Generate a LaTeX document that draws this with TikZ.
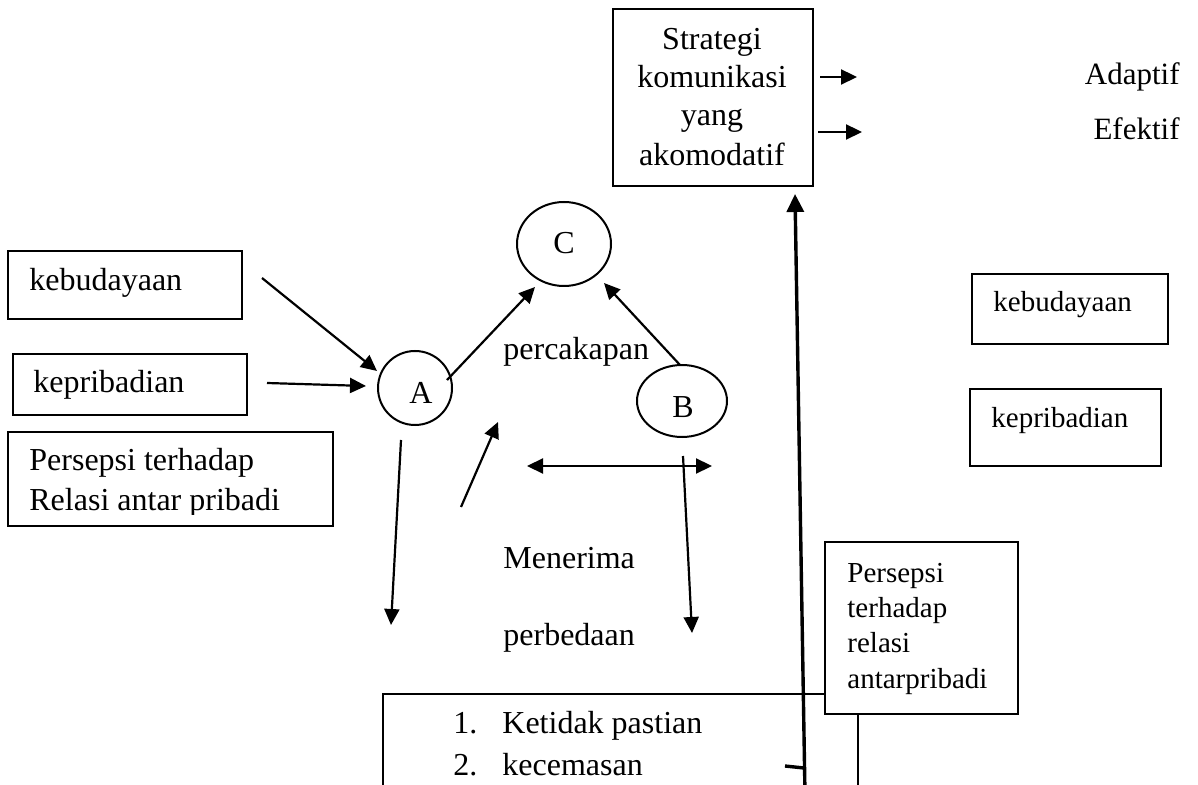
\documentclass[tikz,border=0pt]{standalone}
\usepackage{fontspec}
\setmainfont{Liberation Serif}
\usetikzlibrary{arrows.meta,shapes.geometric}
\begin{document}
\begin{tikzpicture}[x=0.5pt,y=-0.5pt,
  box/.style={draw,line width=1pt,fill=white,inner sep=0pt,anchor=north west},
  oval/.style={draw,ellipse,line width=1pt,inner sep=0pt},
  txt/.style={inner sep=0pt,font=\fontsize{16}{19}\selectfont},
  stxt/.style={inner sep=0pt,font=\fontsize{14.5}{17}\selectfont},
  conn/.style={line width=1.1pt,-{Triangle[length=8pt,width=7.5pt]}},
  thick line/.style={line width=1.7pt}]
\useasboundingbox[fill=white] (0,0) rectangle (1198,785);

% --- top box and outputs
\node[box,minimum width=100pt,minimum height=88.5pt] (strat) at (612,8) {};
\node[txt,anchor=base] (s1) at (712,50) {Strategi};
\node[txt,anchor=base] (s2) at (712,88) {komunikasi};
\node[txt,anchor=base] (s3) at (712,126) {yang};
\node[txt,anchor=base] (s4) at (712,166) {akomodatif};
\coordinate (a1s) at (820,77);
\coordinate (a1e) at (857,77);
\coordinate (a2s) at (818,132);
\coordinate (a2e) at (862,132);
\draw[conn] (a1s) -- (a1e);
\draw[conn] (a2s) -- (a2e);
\node[txt,anchor=base east,font=\fontsize{15.5}{18}\selectfont] (adap) at (1180,85) {Adaptif};
\node[txt,anchor=base east,font=\fontsize{15.5}{18}\selectfont] (efek) at (1180,140) {Efektif};

% --- left boxes
\node[box,minimum width=117pt,minimum height=34pt] (kb1) at (7,250) {};
\node[txt,anchor=base west] (kb1t) at (29,291) {kebudayaan};
\node[box,minimum width=117pt,minimum height=30.5pt] (kp1) at (12,353) {};
\node[txt,anchor=base west] (kp1t) at (33,393) {kepribadian};
\node[box,minimum width=162.5pt,minimum height=47pt] (ps1) at (7,431) {};
\begin{scope}
  \clip (7,431) rectangle (332,514);
  \node[txt,anchor=base west] (ps1a) at (29,471) {Persepsi terhadap};
  \node[txt,anchor=base west] (ps1b) at (29,510) {Relasi antar pribadi};
\end{scope}

% --- right boxes
\node[box,minimum width=98pt,minimum height=35pt] (kb2) at (971,273) {};
\node[stxt,anchor=base west] (kb2t) at (993,312) {kebudayaan};
\node[box,minimum width=95.5pt,minimum height=38.5pt] (kp2) at (969,388) {};
\node[stxt,anchor=base west] (kp2t) at (991,428) {kepribadian};

% --- circles
\node[oval,minimum width=47pt,minimum height=42pt] (C) at (564,244) {};
\node[txt,anchor=base] (Ct) at (564,254) {C};
\node[oval,minimum width=37pt,minimum height=37pt] (A) at (415,388) {};
\node[txt,anchor=base] (At) at (421,404) {A};
\node[oval,minimum width=45pt,minimum height=36pt] (B) at (682,401) {};
\node[txt,anchor=base] (Bt) at (683,418) {B};

\node[txt,anchor=base west] (perc) at (503,360) {percakapan};
\node[txt,anchor=base west] (mene) at (503,568) {Menerima};
\node[txt,anchor=base west] (perb) at (503,645) {perbedaan};

% --- arrows into A and to C
\coordinate (kbA) at (262,278);
\coordinate (Ain1) at (377,371);
\coordinate (kpA) at (267,383);
\coordinate (Ain2) at (366,386);
\draw[conn] (kbA) -- (Ain1);
\draw[conn] (kpA) -- (Ain2);
\coordinate (AC1) at (447,380);
\coordinate (AC2) at (535,287);
\draw[conn] (AC1) -- (AC2);
\coordinate (BC1) at (680,365);
\coordinate (BC2) at (604,283);
\draw[conn] (BC1) -- (BC2);

% --- lower arrows
\coordinate (up1) at (461,507);
\coordinate (up2) at (498,422);
\draw[conn] (up1) -- (up2);
\coordinate (dl1) at (401,440);
\coordinate (dl2) at (391,625);
\draw[conn] (dl1) -- (dl2);
\coordinate (db1) at (527,466);
\coordinate (db2) at (712,466);
\draw[line width=1.1pt,{Triangle[length=8pt,width=7.5pt]}-{Triangle[length=8pt,width=7.5pt]}] (db1) -- (db2);
\coordinate (dr1) at (683,456);
\coordinate (dr2) at (692,633);
\draw[conn] (dr1) -- (dr2);

% --- bottom box
\coordinate (bb1) at (383,795);
\coordinate (bb2) at (383,694);
\coordinate (bb3) at (858,694);
\coordinate (bb4) at (858,795);
\draw[line width=1pt] (bb1) -- (bb2) -- (bb3) -- (bb4);
\node[txt,anchor=base west] (n1) at (453,733) {1.};
\node[txt,anchor=base west] (i1) at (502,733) {Ketidak pastian};
\node[txt,anchor=base west] (n2) at (453,775) {2.};
\node[txt,anchor=base west] (i2) at (502,775) {kecemasan};

% --- long vertical arrow to strategy box
\coordinate (vl1) at (805,795);
\coordinate (vl2) at (795,194);
\draw[thick line,-{Triangle[length=9pt,width=8.5pt]}] (vl1) -- (vl2);
\coordinate (tk1) at (785,766);
\coordinate (tk2) at (804,768);
\draw[thick line] (tk1) -- (tk2);

% --- right persepsi box
\node[box,minimum width=96.5pt,minimum height=86pt] (ps2) at (824,541) {};
\node[stxt,anchor=base west] (ps2a) at (847,582) {Persepsi};
\node[stxt,anchor=base west] (ps2b) at (847,617) {terhadap};
\node[stxt,anchor=base west] (ps2c) at (847,652) {relasi};
\node[stxt,anchor=base west] (ps2d) at (847,688) {antarpribadi};
\end{tikzpicture}
\end{document}
